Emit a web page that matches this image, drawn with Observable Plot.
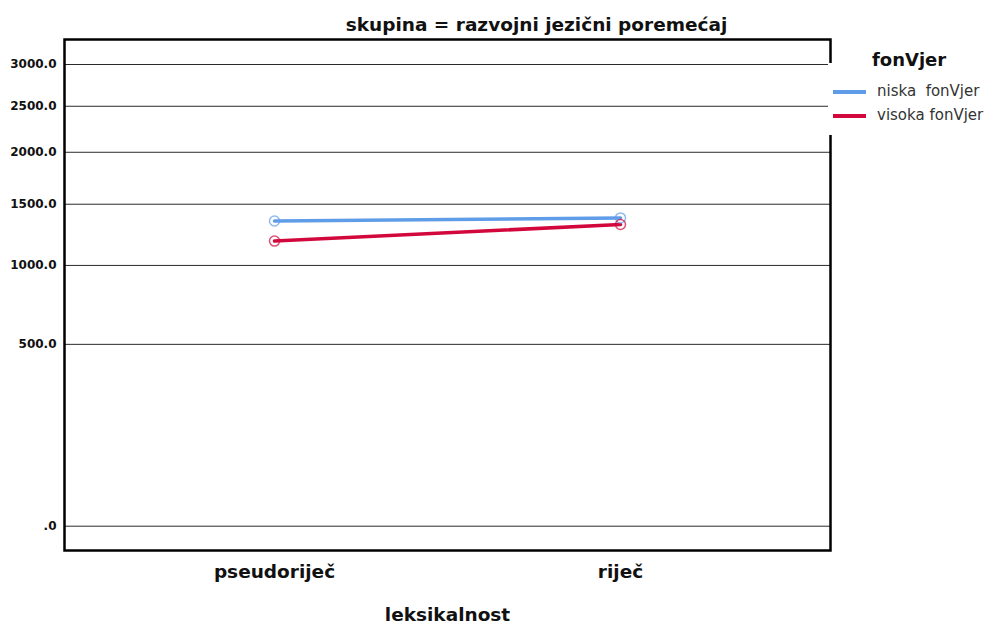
<!DOCTYPE html>
<html>
<head>
<meta charset="utf-8">
<script src="https://cdn.jsdelivr.net/npm/d3@7"></script>
<script src="https://cdn.jsdelivr.net/npm/@observablehq/plot@0.6"></script>
<style>
  html, body { margin: 0; padding: 0; background: #fff; }
  #wrap { position: relative; width: 989px; height: 627px; font-family: "DejaVu Sans", sans-serif; }
  #legtitle { position: absolute; left: 872px; top: 49px; font-weight: bold; font-size: 18px; color: #111; }
  #legbox { position: absolute; left: 828px; top: 63px; width: 161px; height: 72px; background: #fff; }
  .item { position: absolute; font-size: 15px; color: #333; white-space: pre; }
  .swatch { position: absolute; left: 5px; width: 33px; height: 4px; }
</style>
</head>
<body>
<div id="wrap"></div>
<script>
const categories = ["pseudoriječ", "riječ"];
const seriesNames = ["niska  fonVjer", "visoka fonVjer"];
const niskaValues = [1353, 1380];
const visokaValues = [1187, 1324];
const yTicks = [0, 500, 1000, 1500, 2000, 2500, 3000];
const colors = ["#5f9de9", "#d2083d"];
const title = "skupina = razvojni jezični poremećaj";
const xLabel = "leksikalnost";
const legendTitle = "fonVjer";

const data = [];
categories.forEach((c, i) => {
  data.push({lex: c, group: seriesNames[0], value: niskaValues[i]});
  data.push({lex: c, group: seriesNames[1], value: visokaValues[i]});
});

const chart = Plot.plot({
  width: 989,
  height: 627,
  marginLeft: 64,
  marginRight: 159,
  marginTop: 39,
  marginBottom: 77,
  style: {fontFamily: "'DejaVu Sans', sans-serif", background: "#fff", overflow: "visible"},
  x: {type: "point", domain: categories, range: [274, 620], padding: 0},
  y: {type: "pow", exponent: 0.52, domain: [0, 3000], range: [525.7, 64]},
  color: {domain: seriesNames, range: colors},
  marks: [
    Plot.ruleY(yTicks, {stroke: "#2a2a2a", strokeWidth: 1}),
    Plot.axisY(yTicks, {tickSize: 0, tickPadding: 8, fontSize: 12, fontWeight: "bold", fill: "#111",
      tickFormat: d => d === 0 ? ".0" : d.toFixed(1), label: null}),
    Plot.axisX({tickSize: 0, tickPadding: 14, fontSize: 18.5, fontWeight: "bold", fill: "#111", label: null}),
    Plot.line(data, {x: "lex", y: "value", z: "group", stroke: "group", strokeWidth: 3.5}),
    Plot.dot(data, {x: "lex", y: "value", stroke: "group", r: 5, strokeWidth: 1.5, fill: "none", strokeOpacity: 0.7}),
    Plot.frame({stroke: "#000", strokeWidth: 2.5}),
    Plot.text([title], {frameAnchor: "top", dx: 89, dy: -9, lineAnchor: "bottom", fontSize: 18.5, fontWeight: "bold", fill: "#111"}),
    Plot.text([xLabel], {frameAnchor: "bottom", dy: 70, lineAnchor: "bottom", fontSize: 18.5, fontWeight: "bold", fill: "#111"})
  ]
});

const wrap = document.getElementById("wrap");
wrap.appendChild(chart);

const box = document.createElement("div");
box.id = "legbox";
seriesNames.forEach((s, i) => {
  const sw = document.createElement("div");
  sw.className = "swatch";
  sw.style.top = (27 + i * 24) + "px";
  sw.style.background = colors[i];
  box.appendChild(sw);
  const t = document.createElement("div");
  t.className = "item";
  t.style.left = "49px";
  t.style.top = (19 + i * 24) + "px";
  t.textContent = s;
  box.appendChild(t);
});
wrap.appendChild(box);
const lt = document.createElement("div");
lt.id = "legtitle";
lt.textContent = legendTitle;
wrap.appendChild(lt);
</script>
</body>
</html>
